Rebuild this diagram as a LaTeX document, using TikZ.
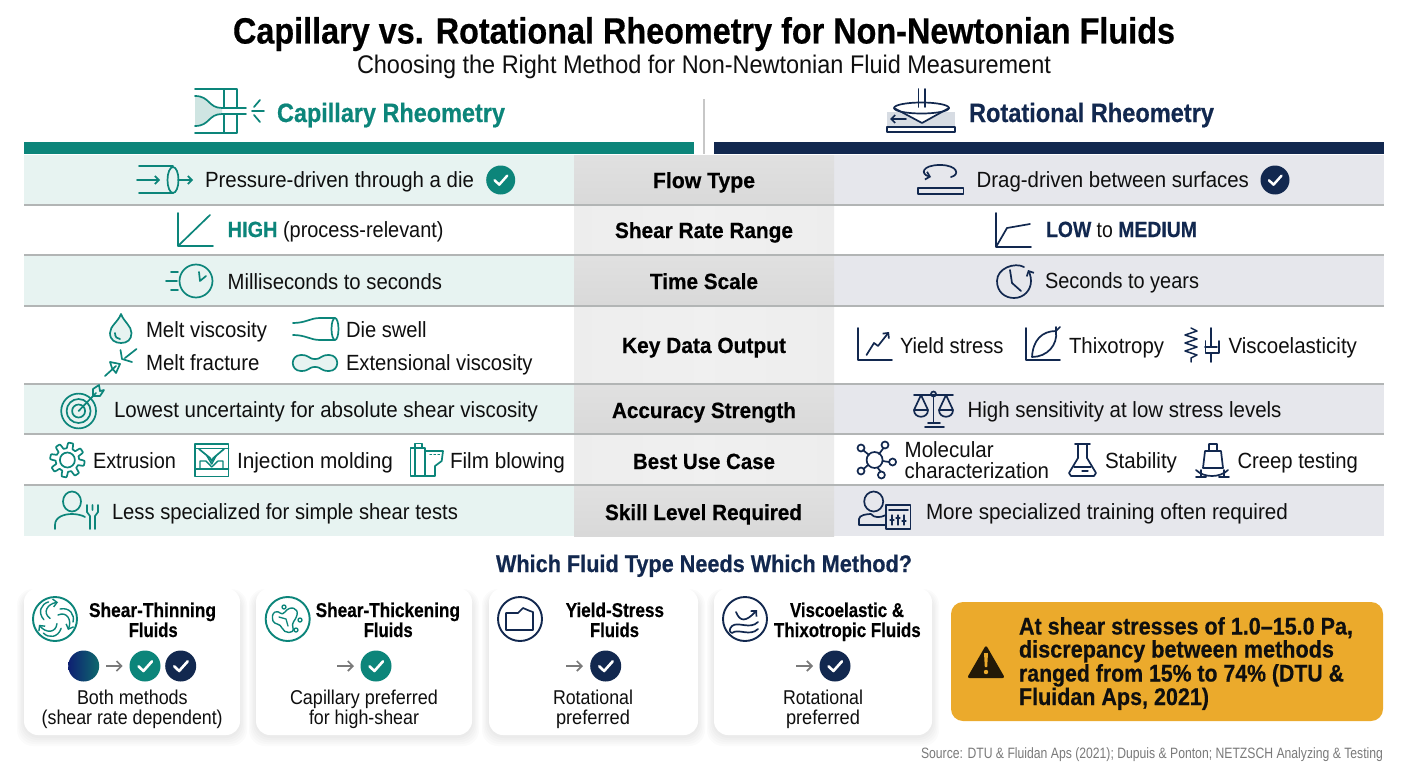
\documentclass[tikz,border=0pt]{standalone}
\usepackage{fontspec}
\usepackage{graphicx}
\setmainfont[BoldFeatures={FakeBold=0.5}]{Liberation Sans}
\usetikzlibrary{arrows.meta}
\definecolor{tealc}{HTML}{0C857A}
\definecolor{navyc}{HTML}{12284F}
\definecolor{tealrow}{HTML}{E7F3F1}
\definecolor{navyrow}{HTML}{E6E7EC}
\definecolor{sepc}{HTML}{B2B5B5}
\definecolor{amberc}{HTML}{EBAA2C}
\definecolor{inkc}{HTML}{0F0F0F}
\definecolor{tealfill}{HTML}{CFE5E2}
\definecolor{navyfill}{HTML}{D7DCE3}
\definecolor{arrowc}{HTML}{7A7A7A}
\newsavebox\fitbox
\newlength\fitlen
\newcounter{tc}
% text fitted to the reference extent: left, right, baseline, size, text
\newcommand\fit[2]{\sbox\fitbox{#2}\setlength\fitlen{\wd\fitbox}\pgfmathsetmacro\fitr{#1/\fitlen}\scalebox{\fitr}[1]{\usebox\fitbox}}
\newcommand\tx[6][]{\stepcounter{tc}\pgfmathsetmacro\fitw{#3-#2}\node[txt,#1] (t\thetc) at (#2,#4) {\fontsize{#5}{#5}\selectfont\fit{\fitw}{#6}};}
\newcommand\chk[4]{\stepcounter{tc}\node[circle,fill=#3,minimum size=#4*2pt,inner sep=0pt] (c\thetc) at (#1,#2) {};
 \draw[white,line width=.17*#4pt,line cap=round,line join=round] (#1-.42*#4,#2+.02*#4) -- (#1-.1*#4,#2+.32*#4) -- (#1+.45*#4,#2-.3*#4);}
\newcommand\card[4]{\foreach \k in {10,8,6,4,2}{\fill[black,opacity=.016,rounded corners=16pt] (#1-\k*.7,#2+6-\k*.5) rectangle (#3+\k*.7,#4+\k+1);}
 \fill[white,rounded corners=14pt] (#1,#2) rectangle (#3,#4);}
\newcommand\gar[3]{\draw[arrowc,line width=1.7pt,-{Straight Barb[length=5pt,width=10pt]}] (#1,#3) -- (#2,#3);}
\tikzset{
 txt/.style={anchor=base west,inner sep=0pt,outer sep=0pt,text=inkc},
 tealic/.style={draw=tealc,line width=1.7pt,line cap=round,line join=round},
 navyic/.style={draw=navyc,line width=1.7pt,line cap=round,line join=round},
 tipa/.style={-{Straight Barb[length=4pt,width=8pt]}}
}
\begin{document}
\begin{tikzpicture}[x=1pt,y=-1pt]
\useasboundingbox (0,0) rectangle (1408,768);
\fill[white] (0,0) rectangle (1408,768);
% titles
\tx[text=black]{233}{1175}{43.5}{36.5}{\bfseries Capillary vs. Rotational Rheometry for Non-Newtonian Fluids}
\tx{357}{1051}{74}{25.5}{Choosing the Right Method for Non-Newtonian Fluid Measurement}
\tx[text=tealc]{277}{505}{122}{26.5}{\bfseries Capillary Rheometry}
\tx[text=navyc]{969}{1214}{122}{26.5}{\bfseries Rotational Rheometry}
% header bars
\fill[tealc] (24,142) rectangle (694,154);
\fill[navyc] (714,142) rectangle (1384,154);
\draw[black!22,line width=1.2pt] (704,99) -- (704,154);
% rows
\foreach \ya/\yb/\sh in {155/205/1,205/255/0,255/306/1,306/384/0,384/434/1,434/485/0,485/536/1}{
 \ifnum\sh=1
  \fill[tealrow] (24,\ya) rectangle (574,\yb);
  \fill[navyrow] (834,\ya) rectangle (1384,\yb);
  \shade[top color=black!12,bottom color=black!15] (574,\ya) rectangle (834,\yb);
 \else
  \shade[left color=black!7,right color=black!7,middle color=black!6] (574,\ya) rectangle (834,\yb);
 \fi
}
\foreach \y in {205,255,306,384,434,485}{\draw[sepc,line width=1.2pt] (24,\y) -- (1384,\y);}
% centre column
\tx[text=black]{653}{755}{188}{22}{\bfseries Flow Type}
\tx[text=black]{615}{793}{238}{22}{\bfseries Shear Rate Range}
\tx[text=black]{650}{758}{289}{22}{\bfseries Time Scale}
\tx[text=black]{622}{786}{353}{22}{\bfseries Key Data Output}
\tx[text=black]{612}{796}{418}{22}{\bfseries Accuracy Strength}
\tx[text=black]{633}{775}{469}{22}{\bfseries Best Use Case}
\tx[text=black]{605}{802}{520}{22}{\bfseries Skill Level Required}
% left column
\tx{205}{474}{187}{22}{Pressure-driven through a die}
\chk{500.7}{180}{tealc}{14.5}
\tx{227.7}{443.6}{237}{22}{{\bfseries\color{tealc}HIGH} (process-relevant)}
\tx{227.7}{442}{289}{22}{Milliseconds to seconds}
\tx{146}{267}{337}{22}{Melt viscosity}
\tx{346}{426.6}{337}{22}{Die swell}
\tx{146}{259.5}{370}{22}{Melt fracture}
\tx{346}{532.6}{370}{22}{Extensional viscosity}
\tx{114}{538}{417}{22}{Lowest uncertainty for absolute shear viscosity}
\tx{93}{176}{468}{22}{Extrusion}
\tx{237}{393}{468}{22}{Injection molding}
\tx{450}{565}{468}{22}{Film blowing}
\tx{112}{458}{519}{22}{Less specialized for simple shear tests}
% right column
\tx{976.6}{1249}{187}{22}{Drag-driven between surfaces}
\chk{1275}{180}{navyc}{14.5}
\tx{1046}{1197}{237}{22}{{\bfseries\color{navyc}LOW} to {\bfseries\color{navyc}MEDIUM}}
\tx{1045}{1199}{288}{22}{Seconds to years}
\tx{900}{1003.5}{353}{22}{Yield stress}
\tx{1069}{1164}{353}{22}{Thixotropy}
\tx{1228.5}{1357}{353}{22}{Viscoelasticity}
\tx{967.6}{1281.5}{417}{22}{High sensitivity at low stress levels}
\tx{904.7}{993.6}{457}{22}{Molecular}
\tx{904.7}{1049}{478}{22}{characterization}
\tx{1105}{1177}{468}{22}{Stability}
\tx{1237.5}{1358}{468}{22}{Creep testing}
\tx{926}{1288}{519}{22}{More specialized training often required}
% section title
\tx[text=navyc]{496}{912}{572}{24}{\bfseries Which Fluid Type Needs Which Method?}
% cards
\card{24}{588}{240}{735}
\card{256}{588}{472}{735}
\card{489}{588}{698}{735}
\card{714}{588}{932}{735}
\tx[text=black]{89}{216}{617}{20}{\bfseries Shear-Thinning}
\tx[text=black]{128.7}{177.7}{637}{20}{\bfseries Fluids}
\tx[text=black]{315.7}{460}{617}{20}{\bfseries Shear-Thickening}
\tx[text=black]{363.7}{412.7}{637}{20}{\bfseries Fluids}
\tx[text=black]{565.7}{664}{617}{20}{\bfseries Yield-Stress}
\tx[text=black]{590}{639}{637}{20}{\bfseries Fluids}
\tx[text=black]{790}{904}{617}{20}{\bfseries Viscoelastic \&}
\tx[text=black]{774}{920.7}{637}{20}{\bfseries Thixotropic Fluids}
\tx{77}{187.7}{704}{20}{Both methods}
\tx{41.7}{222.7}{724}{20}{(shear rate dependent)}
\tx{290}{438}{704}{20}{Capillary preferred}
\tx{309}{419}{724}{20}{for high-shear}
\tx{553}{633}{704}{20}{Rotational}
\tx{556}{630}{724}{20}{preferred}
\tx{783}{863}{704}{20}{Rotational}
\tx{786}{860}{724}{20}{preferred}
\shade[left color=navyc!80!blue,right color=tealc!70!navyc] (83.7,666) circle (15.5);
\gar{106}{122.7}{666}
\chk{145}{666}{tealc}{15.5}
\chk{180.7}{666}{navyc}{15.5}
\gar{337}{354}{666}
\chk{376}{666}{tealc}{15.5}
\gar{566}{583}{666}
\chk{605.7}{666}{navyc}{15.5}
\gar{796}{813}{666}
\chk{835}{666}{navyc}{15.5}
% amber note
\fill[amberc,rounded corners=12pt] (951,602) rectangle (1383,721);
\tx{1019}{1353}{634.5}{24}{\bfseries At shear stresses of 1.0–15.0 Pa,}
\tx{1019}{1334}{657.5}{24}{\bfseries discrepancy between methods}
\tx{1019}{1344}{681.5}{24}{\bfseries ranged from 15\% to 74\% (DTU \&}
\tx{1019}{1209}{705}{24}{\bfseries Fluidan Aps, 2021)}
\fill[black!85!amberc,rounded corners=2.5pt] (986,645) -- (1005,678) -- (967,678) -- cycle;
\fill[amberc] (984,653) -- (988,653) -- (987.2,667) -- (984.8,667) -- cycle;
\fill[amberc] (986,672) circle (2.2);
\tx[text=black!52]{921}{1383}{758}{15}{Source: DTU \& Fluidan Aps (2021); Dupuis \& Ponton; NETZSCH Analyzing \& Testing}
% --- icons: capillary header
\fill[tealfill] (195,96) .. controls (210,96) and (208,108) .. (222,108) -- (222,114) .. controls (208,114) and (210,126) .. (195,126) -- cycle;
\draw[tealic] (195,89) -- (237,89) -- (237,108) (224,89) -- (224,108) (195,133) -- (237,133) -- (237,114) (224,133) -- (224,114);
\draw[tealic] (195,96) .. controls (210,96) and (208,108) .. (222,108) -- (246,108) (195,126) .. controls (210,126) and (208,114) .. (222,114) -- (246,114);
\draw[tealic] (252,111) -- (264,111) (254,107) -- (260,100) (254,115) -- (260,122);
% --- rotational header
\fill[navyfill] (887,112) rectangle (955,127);
\draw[navyic,fill=white] (894,108) -- (922,123) -- (949,108);
\draw[navyic] (921.5,108) ellipse (27.5 and 5.5);
\draw[navyic] (918.5,89) -- (918.5,107) (925,89) -- (925,107);
\draw[navyic,fill=white] (887,127) rectangle (955,132);
\draw[navyic,tipa] (906,119) -- (890,119);
% row 1 icons
\draw[tealic] (139,166) -- (173,166) (139,193) -- (173,193);
\draw[tealic] (173,180) ellipse (5.5 and 13);
\draw[tealic,tipa] (137,180) -- (160,180);
\draw[tealic,tipa] (178,180) -- (193,180);
\draw[navyic] (918,188) rectangle (963.5,194);
\draw[navyic,tipa] (951,177) .. controls (960,175) and (958,165) .. (940,165) .. controls (922,165) and (920,174) .. (931,177);
% row 2 icons
\draw[tealic] (178,213) -- (178,246) -- (213,246) (178,246) -- (210,215);
\draw[navyic] (996,213) -- (996,247) -- (1031,247) (996,247) -- (1007,228) -- (1030,224);
% row 3 icons
\draw[tealic] (196,281) circle (16.5);
\draw[tealic] (199,272) -- (200,281) -- (206,276) (166,281) -- (177,281) (171,272) -- (178,272) (171,290) -- (178,290);
\draw[navyic,tipa] (1024,267) .. controls (1015,262) and (997,268) .. (997,281) .. controls (997,292) and (1005,298) .. (1014,298) .. controls (1024,298) and (1031,290) .. (1031,281) .. controls (1031,276) and (1029,272) .. (1028,270);
\draw[navyic] (1010,270) -- (1012,283) -- (1021,291);
% row 4 left icons
\draw[tealic,fill=tealrow] (121,314) .. controls (118,322) and (110,326) .. (110,333) .. controls (110,340) and (115,343) .. (121,343) .. controls (127,343) and (131.5,340) .. (131.5,333) .. controls (131.5,326) and (124,322) .. (121,314) -- cycle;
\draw[tealic] (115,333) .. controls (115,337) and (117,339) .. (120,339);
\draw[tealic] (293,323) .. controls (306,323) and (310,318) .. (320,318) -- (335,318) (293,335) .. controls (306,335) and (310,340) .. (320,340) -- (335,340);
\draw[tealic] (335,329) ellipse (3.5 and 11);
\draw[tealic] (136.5,349) -- (125,358) (120.5,350) -- (122,359) -- (132,362);
\draw[tealic] (105,376) -- (116,366) (110,362) -- (120,364) -- (116,373) -- (112,368) -- (110,362);
\draw[tealic,fill=tealrow] (301,355) .. controls (310,355) and (308,359) .. (315,359) .. controls (322,359) and (320,355) .. (329,355) .. controls (340,355) and (340,371) .. (329,371) .. controls (320,371) and (322,367) .. (315,367) .. controls (308,367) and (310,371) .. (301,371) .. controls (290,371) and (290,355) .. (301,355) -- cycle;
% row 4 right icons
\draw[navyic] (858,328) -- (858,360) -- (892,360);
\draw[navyic,tipa] (866.5,355) -- (874,343) -- (878,346) -- (889,332);
\draw[navyic] (1026,328) -- (1026,360) -- (1060,360);
\draw[navyic] (1032,357) .. controls (1033,340) and (1042,331) .. (1056,331) .. controls (1058,345) and (1047,357) .. (1032,357) -- cycle (1056,331) -- (1060,327) (1056,327) -- (1056,335);
\draw[navyic,line width=1.5pt] (1191,328) -- (1197,331) -- (1185,335) -- (1197,339) -- (1185,343) -- (1197,347) -- (1185,351) -- (1197,355) -- (1191,358) -- (1191,362);
\draw[navyic] (1211,328) -- (1211,347) (1205,347) -- (1217,347) (1205.5,341) -- (1205.5,353) -- (1219,353) -- (1219,341) (1211,353) -- (1211,362);
% row 5 icons
\draw[tealic] (78.6,411) circle (17.4) (78.6,411) circle (12) (78.6,411) circle (6.5);
\draw[tealic] (78.6,411) -- (96,393) (93,389) -- (93,396) -- (100,396) -- (104,390) -- (100,391) -- (99,385) -- (93,389);
\draw[navyic] (914,395) -- (953,395) (933.5,397) -- (933.5,422) (928,423) -- (940,423) (925,427) -- (944,427);
\draw[navyic] (933.5,394) circle (2.5);
\draw[navyic] (921,395) -- (914,410) -- (928,410) -- cycle (914,410) .. controls (914,419) and (928,419) .. (928,410);
\draw[navyic] (946,395) -- (939,410) -- (953,410) -- cycle (939,410) .. controls (939,419) and (953,419) .. (953,410);
% row 6 left icons
\draw[tealic] plot[domain=0:360,samples=161] ({67.4+(14.5+2.8*min(1,max(-1,2.5*sin(8*\x))))*cos(\x)},{460+(14.5+2.8*min(1,max(-1,2.5*sin(8*\x))))*sin(\x)}) -- cycle;
\draw[tealic] (67.4,460) circle (7.5);
\draw[tealic] (195,444) rectangle (228.5,476.5) (195,448.5) -- (228.5,448.5) (195,469) -- (228.5,469);
\draw[tealic] (199,449) -- (210,458) -- (211.7,461) -- (213.4,458) -- (224,449);
\draw[tealic,line width=1.4pt] (200,469) -- (200,461) -- (206,461) -- (211.7,467) -- (218,461) -- (223,461) -- (223,469) (207,456) -- (211.7,464) -- (216,456);
\draw[tealic] (410.5,448) rectangle (425,476) (415,448) -- (415,476) (415,448) -- (415,443.5) -- (422,443.5) -- (422,448);
\draw[tealic] (425,451) -- (443,451) -- (441.7,461) -- (435,466) -- (435,476) -- (425,476);
\draw[tealic,line width=1.4pt,dash pattern=on 1.5pt off 2.5pt] (430,454.5) -- (441,454.5);
% row 6 right icons
\draw[navyic] (874.6,460) circle (8);
\draw[navyic] (861,448) circle (3.5) (885,445) circle (3.5) (892.6,462) circle (3.5) (881.4,475) circle (3.5) (861,471) circle (3.5);
\draw[navyic] (863,450) -- (869,455) (883.5,448) -- (879,454) (889,462) -- (882.6,461) (880.5,471.5) -- (877.5,467.5) (863.5,469) -- (868,465);
\draw[navyic] (1075,444) -- (1090,444) (1078,444) -- (1078,458) -- (1069,473) -- (1071,476) -- (1094,476) -- (1096,473) -- (1087,458) -- (1087,444);
\draw[navyic,line width=1.3pt] (1074,467) -- (1091,467) (1082,471) -- (1088,471);
\draw[navyic] (1209,450) -- (1209,444) -- (1217,444) -- (1217,450) (1205,451) -- (1221,451) -- (1223,468) -- (1203,468) -- cycle;
\draw[navyic] (1196,470) .. controls (1204,478) and (1220,478) .. (1228,470) (1196,477) -- (1206,477) (1219,477) -- (1229,477) (1201,470) -- (1201,477) (1224,470) -- (1224,477);
% row 7 icons
\draw[tealic] (72,501.5) ellipse (9 and 10);
\draw[tealic] (55,529) -- (55,525) .. controls (55,517) and (64,514) .. (72,514) .. controls (76,514) and (82,515) .. (85,517);
\draw[tealic] (87,505) -- (87,512) -- (90,516) -- (90,529) (95,529) -- (95,516) -- (98,512) -- (98,505) (92.5,505) -- (92.5,510);
\draw[navyic] (873.7,501.5) ellipse (9.5 and 10);
\draw[navyic] (859,525) -- (859,519) .. controls (859,515) and (867,514) .. (871,514) .. controls (874,518) and (880,518) .. (886,515) (859,525) -- (886,525);
\draw[navyic] (886,505) rectangle (910.6,529) (889,510) -- (908,510);
\draw[navyic,line width=1.2pt] (892,515) -- (892,525) (898,515) -- (898,525) (904,515) -- (904,525) (890,520) -- (894,520) (896,518) -- (900,518) (902,521) -- (906,521);
% card icons
\draw[tealc,line width=1.9pt] (55,619) circle (22);
\foreach \a in {0,120,240}{
 \draw[tealic,line width=1.4pt,tipa,rotate around={\a:(55,619)}] (58,615) .. controls (67,611) and (72,620) .. (68,630);
 \draw[tealic,line width=1.4pt,rotate around={\a:(55,619)}] (60,609) .. controls (70,607) and (75,615) .. (73,622);
}
\draw[tealc,line width=1.9pt] (287.7,619) circle (22);
\draw[tealic,line width=1.4pt] (275,612) .. controls (280,610) and (281,617) .. (285,612) .. controls (290,605) and (299,608) .. (297,615) .. controls (295,622) and (291,622) .. (293,628) .. controls (295,634) and (284,634) .. (282,628) .. controls (280,623) and (275,625) .. (273,621) .. controls (272,617) and (272,614) .. (275,612) -- cycle;
\draw[tealic,line width=1.3pt] (284,607) circle (2) (300,620) circle (2) (296,630) circle (2) (279,617) -- (286,619) -- (288,626);
\draw[navyc,line width=1.9pt] (520,619) circle (22);
\draw[navyic] (506,630) -- (506,613) -- (518,613) -- (523,608) -- (530,611) -- (533,612) -- (533,630) -- cycle;
\draw[navyc,line width=1.9pt] (745,619) circle (22);
\draw[navyic,tipa] (736,612) .. controls (740,622) and (746,622) .. (757,610);
\draw[navyic] (732,626) .. controls (738,621) and (750,630) .. (758,622) (732,633) .. controls (738,628) and (750,637) .. (758,629) (732,626) .. controls (729,629) and (729,632) .. (732,633);
\end{tikzpicture}
\end{document}
